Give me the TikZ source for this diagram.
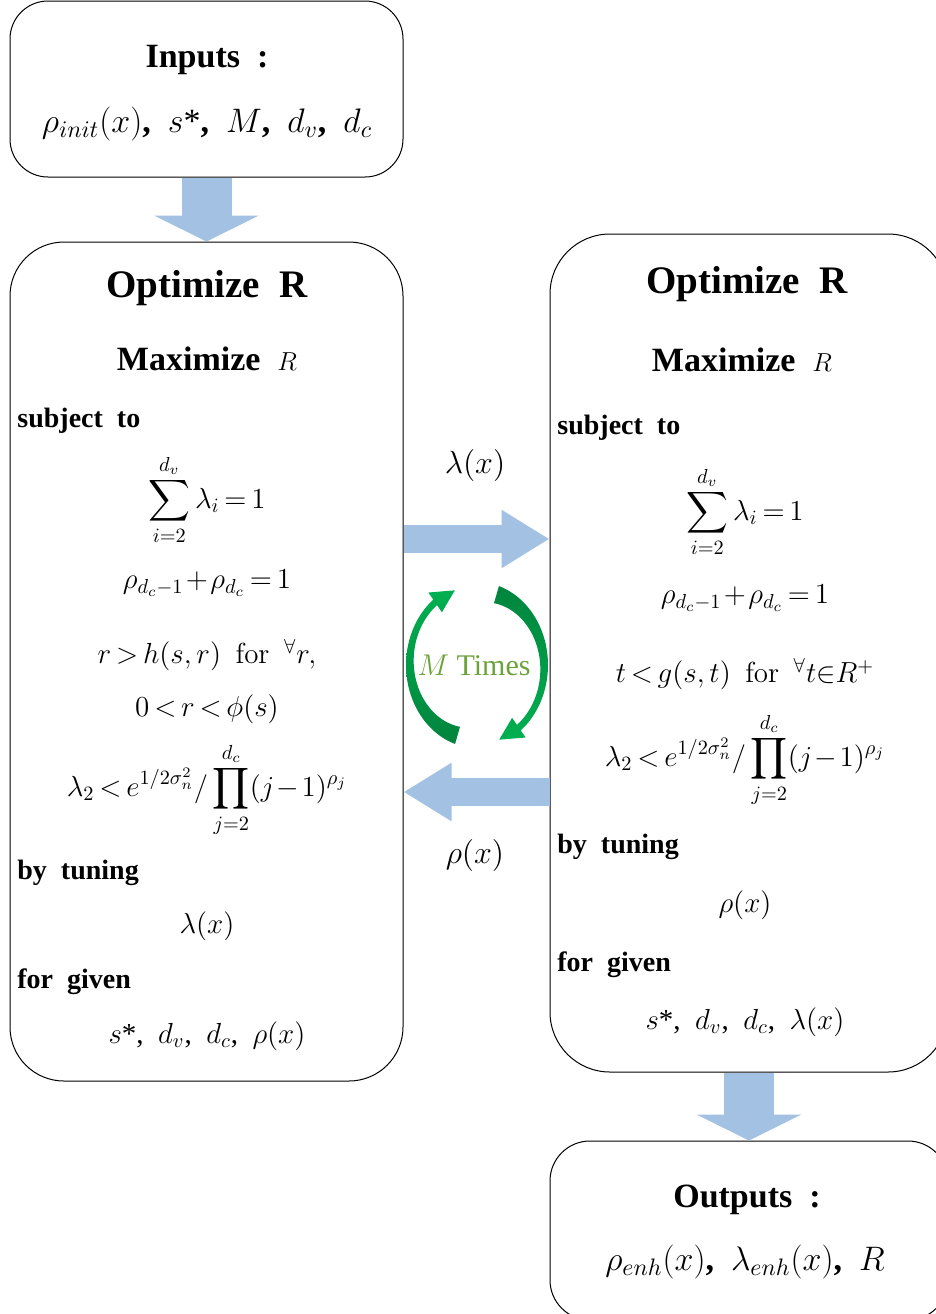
\RequirePackage{fix-cm}
\documentclass[tikz,border=0pt]{standalone}
\usepackage{amsmath,amssymb}
\usepackage[no-math]{fontspec}
\setmainfont{Liberation Serif}
\usetikzlibrary{arrows.meta,positioning,calc}

\definecolor{arrowblue}{RGB}{163,193,227}
\definecolor{cycdark}{RGB}{0,132,61}
\definecolor{cyclight}{RGB}{0,176,80}
\definecolor{timesgreen}{RGB}{107,163,59}

\newcommand{\tightmath}{\thickmuskip=3mu\relax\medmuskip=1.5mu\relax}

\tikzset{
  box/.style={draw, rounded corners=#1, inner sep=0pt, line width=0.5pt},
  fatarrow/.style={draw=arrowblue, line width=25pt, -{Triangle[width=52pt,length=13pt]}},
  sidearrow/.style={draw=arrowblue, line width=14pt, -{Triangle[width=27.5pt,length=24pt]}},
  title/.style={font=\fontsize{19.5}{22}\selectfont\bfseries},
  subtitle/.style={font=\fontsize{17}{20}\selectfont\bfseries},
  tag/.style={anchor=west, inner sep=0pt, font=\fontsize{14}{16}\selectfont\bfseries},
  eq/.style={font=\fontsize{14.5}{17}\selectfont\tightmath},
  biglist/.style={font=\fontsize{17}{20}\selectfont\tightmath},
}

\begin{document}
\begin{tikzpicture}[x=0.5pt,y=-0.5pt]
    \useasboundingbox (0,0) rectangle (936,1314);
    \clip (0,0) rectangle (936,1314);

    % boxes
    \node[box=19pt, minimum width=196.5pt, minimum height=88pt] (inputs) at (206.5,89) {};
    \node[box=27pt, minimum width=196.5pt, minimum height=419.5pt] (optL) at (206.5,661.5) {};
    \node[box=30pt, minimum width=199pt, minimum height=419pt] (optR) at (749,653) {};
    \node[box=20pt, minimum width=199pt, minimum height=89.5pt] (outputs) at (749,1230.5) {};

    % block arrows
    \coordinate (lamtail) at ([yshift=61.25pt]optL.east);
    \coordinate (lamhead) at (lamtail -| optR.west);
    \coordinate (rhotail) at ([yshift=-69.5pt]optR.west);
    \coordinate (rhohead) at (rhotail -| optL.east);

    \draw[fatarrow] (inputs.south) -- (optL.north);
    \draw[sidearrow] (lamtail) -- (lamhead);
    \draw[sidearrow] (rhotail) -- (rhohead);
    \draw[fatarrow] (optR.south) -- (outputs.north);

    \node[eq, font=\fontsize{16}{19}\selectfont] (lamlbl) at (475,465) {$\lambda(x)$};
    \node[eq, font=\fontsize{16}{19}\selectfont] (rholbl) at (475,855) {$\rho(x)$};

    % M times cycle
    \begin{scope}[shift={(477,665)}]
      \shade[top color=cyclight, bottom color=cycdark]
        plot[domain=108:232,samples=40] ({71*cos(\x)},{83*sin(\x)})
        -- ({79*cos(232)},{92*sin(232)}) -- ({68*cos(251)},{79*sin(251)}) -- ({57*cos(232)},{67*sin(232)})
        -- plot[domain=232:108,samples=40] ({(65-10*((232-\x)/124)^2)*cos(\x)},{(76-11*((232-\x)/124)^2)*sin(\x)}) -- cycle;
      \shade[top color=cycdark, bottom color=cyclight]
        plot[domain=288:412,samples=40] ({71*cos(\x)},{83*sin(\x)})
        -- ({79*cos(412)},{92*sin(412)}) -- ({68*cos(431)},{79*sin(431)}) -- ({57*cos(412)},{67*sin(412)})
        -- plot[domain=412:288,samples=40] ({(65-10*((412-\x)/124)^2)*cos(\x)},{(76-11*((412-\x)/124)^2)*sin(\x)}) -- cycle;
    \end{scope}
    \node[text=timesgreen, font=\fontsize{15}{18}\selectfont] (mtimes) at (474,665) {$M$ Times};

    % inputs
    \node[subtitle] (intitle) at (207,60) {Inputs\enspace:};
    \node[biglist] (inlist) at (207,124)
      {$\rho_{init}(x)$\textbf{,}\ \ $s$*\textbf{,}\ \ $M$\textbf{,}\ \ $d_v$\textbf{,}\ \ $d_c$};

    % left optimisation
    \node[title] (tL) at (207,288) {Optimize\enspace R};
    \node[subtitle] (mL) at (207,359) {Maximize\enspace{\fontsize{13}{15}\selectfont$R$}};
    \node[tag] (sL) at (17,421) {subject\enspace to};
    \node[eq] (c1L) at (207,500) {$\displaystyle\sum_{i=2}^{d_v}\lambda_i = 1$};
    \node[eq] (c2L) at (207,583) {$\rho_{d_c-1}+\rho_{d_c}=1$};
    \node[eq] (c3L) at (207,655) {$r > h(s,r)\ \ \mathrm{for}\ \ {}^{\forall}r,$};
    \node[eq] (c4L) at (207,709) {$0<r<\phi(s)$};
    \node[eq] (c5L) at (207,790) {$\displaystyle\lambda_2 < e^{1/2\sigma_n^2}/\prod_{j=2}^{d_c}(j-1)^{\rho_j}$};
    \node[tag] (bL) at (17,873) {by\enspace tuning};
    \node[eq] (vL) at (207,926) {$\lambda(x)$};
    \node[tag] (gL) at (17,982) {for\enspace given};
    \node[eq] (pL) at (207,1036) {$s$*,\ \ $d_v$,\ \ $d_c$,\ \ $\rho(x)$};

    % right optimisation
    \node[title] (tR) at (747,284) {Optimize\enspace R};
    \node[subtitle] (mR) at (742,360) {Maximize\enspace{\fontsize{13}{15}\selectfont$R$}};
    \node[tag] (sR) at (557,428) {subject\enspace to};
    \node[eq] (c1R) at (745,512) {$\displaystyle\sum_{i=2}^{d_v}\lambda_i = 1$};
    \node[eq] (c2R) at (745,598) {$\rho_{d_c-1}+\rho_{d_c}=1$};
    \node[eq] (c3R) at (745,674) {$t < g(s,t)\ \ \mathrm{for}\ \ {}^{\forall}t{\in}R^{+}$};
    \node[eq] (c4R) at (745,760) {$\displaystyle\lambda_2 < e^{1/2\sigma_n^2}/\prod_{j=2}^{d_c}(j-1)^{\rho_j}$};
    \node[tag] (bR) at (557,847) {by\enspace tuning};
    \node[eq] (vR) at (745,905) {$\rho(x)$};
    \node[tag] (gR) at (557,965) {for\enspace given};
    \node[eq] (pR) at (745,1022) {$s$*,\ \ $d_v$,\ \ $d_c$,\ \ $\lambda(x)$};

    % outputs
    \node[subtitle] (outtitle) at (747,1200) {Outputs\enspace:};
    \node[biglist] (outlist) at (745,1262)
      {$\rho_{enh}(x)$\textbf{,}\ \ $\lambda_{enh}(x)$\textbf{,}\ \ $R$};
\end{tikzpicture}
\end{document}
